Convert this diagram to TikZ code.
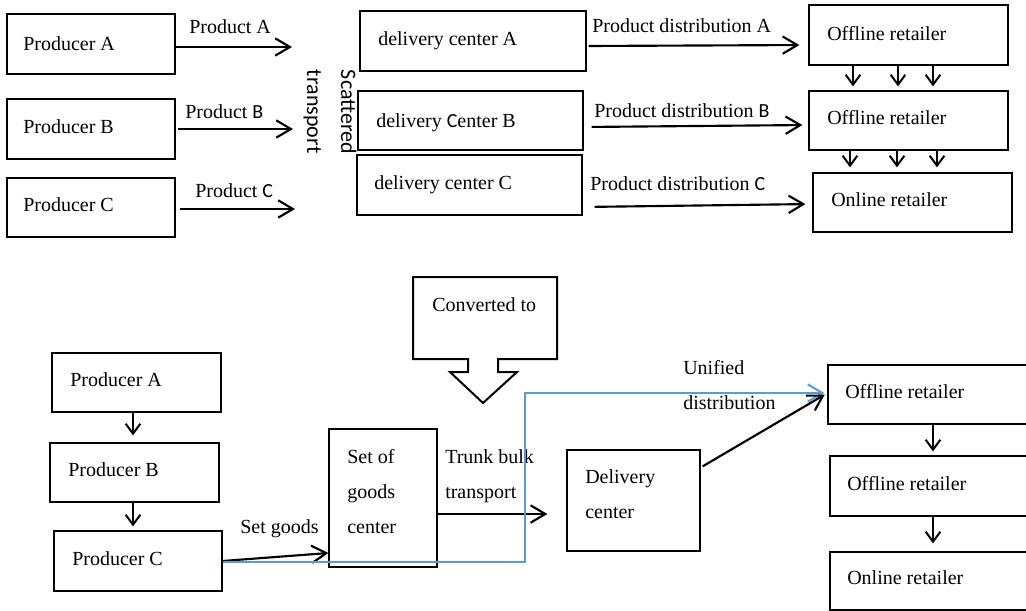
\documentclass[tikz,border=0pt]{standalone}
\usepackage{fontspec}
\setmainfont{Liberation Serif}
\setsansfont{Carlito}
\usetikzlibrary{arrows.meta,fit}
\definecolor{lineblue}{RGB}{91,155,213}
\tikzset{
  box/.style={draw, line width=0.9pt, inner sep=0pt},
  lbl/.style={inner sep=0pt, anchor=base west, align=left, font=\fontsize{15}{26.25}\selectfont},
  arr/.style={line width=1.6pt, -{Straight Barb[length=11pt,width=13pt]}},
  darr/.style={line width=1.5pt, -{Straight Barb[length=7.5pt,width=11pt]}},
}
\begin{document}
\begin{tikzpicture}[x=0.75pt,y=0.75pt,yscale=-1,xscale=1]
\useasboundingbox (0,0) rectangle (1026,611);
\clip (0,0) rectangle (1026,611);

% ===== scattered transport (top) =====
%Shape: Rectangle
\node[box, fit={(7,14)(175,74)}] (prodA) {};
\node[box, fit={(7,99)(175,159)}] (prodB) {};
\node[box, fit={(7,178)(175,237)}] (prodC) {};
\node[box, fit={(360,11)(586,71)}] (dcA) {};
\node[box, fit={(358,91)(583,150)}] (dcB) {};
\node[box, fit={(357,155)(582,215)}] (dcC) {};
\node[box, fit={(809,5)(1008,65)}] (retA) {};
\node[box, fit={(809,91)(1008,150)}] (retB) {};
\node[box, fit={(813,173)(1012,232)}] (onl) {};

% Text Node
\node[lbl] (tprodA) at (23,50) {Producer A};
\node[lbl] (tprodB) at (23,133) {Producer B};
\node[lbl] (tprodC) at (23,211) {Producer C};
\node[lbl] (tdcA) at (378,45) {delivery center A};
\node[lbl] (tdcB) at (376,127) {delivery \textsf{C}enter B};
\node[lbl] (tdcC) at (374,189) {delivery center C};
\node[lbl] (tretA) at (827,40) {Offline retailer};
\node[lbl] (tretB) at (827,124) {Offline retailer};
\node[lbl] (tonl) at (831,206) {Online retailer};

%Straight Lines
\coordinate (pA) at (292,47);
\coordinate (pB) at (293,129);
\coordinate (pC) at (295,209);
\draw[arr] (prodA.east |- pA) -- (pA);
\draw[arr, shorten <=2pt] (prodB.east |- pB) -- (pB);
\draw[arr, shorten <=3pt] (prodC.east |- pC) -- (pC);
\node[lbl] (lpA) at (189,33) {Product A};
\node[lbl] (lpB) at (185,118) {Product \textsf{B}};
\node[lbl] (lpC) at (195,197) {Product \textsf{C}};

% Text Node
\node[inner sep=0pt, rotate=-90, align=left, font=\sffamily\fontsize{16.5}{25.5}\selectfont] (scat) at (330,112) {Scattered\\transport};

\draw[arr, shorten <=1.5pt, shorten >=6.75pt] (dcA.east |- 0,46) -- (retA.west |- 0,45);
\draw[arr, shorten <=6pt, shorten >=4.5pt] (dcB.east |- 0,127) -- (retB.west |- 0,125);
\draw[arr, shorten <=9pt, shorten >=5.25pt] (dcC.east |- 0,207) -- (onl.west |- 0,204);
\node[lbl] (ldA) at (592,32) {Product distribution A};
\node[lbl] (ldB) at (594,117) {Product distribution \textsf{B}};
\node[lbl] (ldC) at (590,190) {Product distribution \textsf{C}};

\foreach \x in {853,898,933}
  \draw[darr, shorten >=3pt] (retA.south -| \x,0) -- (retB.north -| \x,0);
\foreach \x in {850,897,937}
  \draw[darr, shorten >=3.75pt] (retB.south -| \x,0) -- (onl.north -| \x,0);

% ===== converted to =====
%Shape: Callout
\draw[line width=1.5pt, line join=miter] (413,277) -- (557,277) -- (557,359) -- (498,359) -- (498,372) -- (517,372) -- (483,403) -- (450,372) -- (468,372) -- (468,359) -- (413,359) -- cycle;
\node[lbl] (conv) at (432,311) {Converted to};

% ===== unified distribution (bottom) =====
%Shape: Rectangle
\node[box, fit={(52,353)(221,412)}] (bpA) {};
\node[box, fit={(50,443)(219,502)}] (bpB) {};
\node[box, fit={(54,531)(222,591)}] (bpC) {};
\node[box, fit={(329,429)(437,567)}] (sgc) {};
\node[box, fit={(567,450)(700,551)}] (dc) {};
\node[box, fit={(828,365)(1032,424)}] (br1) {};
\node[box, fit={(830,456)(1032,516)}] (br2) {};
\node[box, fit={(830,552)(1032,610)}] (br3) {};

% Text Node (multi-line: anchor on the last baseline)
\node[lbl] (tbpA) at (70,386) {Producer A};
\node[lbl] (tbpB) at (68,476) {Producer B};
\node[lbl] (tbpC) at (72,565) {Producer C};
\node[lbl] (tsgc) at (347,533) {Set of\\goods\\center};
\node[lbl] (tdc) at (585,518) {Delivery\\center};
\node[lbl] (tbr1) at (845,398) {Offline retailer};
\node[lbl] (tbr2) at (847,490) {Offline retailer};
\node[lbl] (tbr3) at (847,584) {Online retailer};

%Straight Lines
\draw[darr, shorten >=5.25pt] (bpA.south -| 133,0) -- (bpB.north -| 133,0);
\draw[darr, shorten >=3pt] (bpB.south -| 133,0) -- (bpC.north -| 133,0);
\draw[darr, shorten >=3pt] (br1.south -| 933,0) -- (br2.north -| 933,0);
\draw[darr, shorten >=6pt] (br2.south -| 933,0) -- (br3.north -| 933,0);

\draw[arr] (bpC.east |- 0,561) -- (sgc.west |- 0,553);
\node[lbl] (lsg) at (240,533) {Set goods};
\draw[arr, shorten >=14.25pt] (sgc.east |- 0,514) -- (dc.west |- 0,514);
\node[lbl] (ltrunk) at (445,498) {Trunk bulk\\transport};

%Blue route
\coordinate (bend) at (525,393);
\draw[lineblue, line width=1.5pt, -{Straight Barb[length=11pt,width=13pt]}, shorten >=2.25pt] (bpC.east |- 0,562) -| (bend) -- (br1.west |- bend);
\draw[arr, shorten >=2.25pt] ([xshift=1.5pt,yshift=12.75pt]dc.north east) -- ([yshift=-1.1pt]br1.west);
\node[lbl] (lunif) at (683,409) {Unified\\distribution};

\end{tikzpicture}
\end{document}
